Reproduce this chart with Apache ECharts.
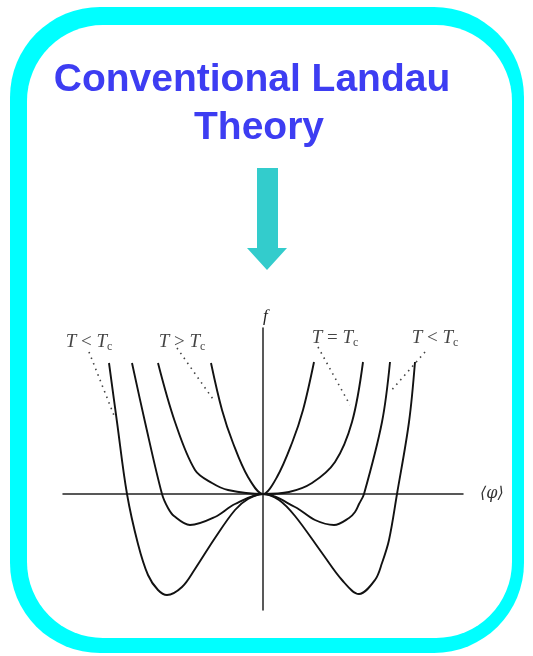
<!DOCTYPE html>
<html>
<head>
<meta charset="utf-8">
<title>Conventional Landau Theory</title>
<script src="https://cdn.jsdelivr.net/npm/echarts@6/dist/echarts.min.js"></script>
<style>
  html, body { margin: 0; padding: 0; background: #ffffff; }
  #chart { width: 533px; height: 656px; }
</style>
</head>
<body>
<div id="chart"></div>
<script>
// Free energy f against order parameter <phi>, one pair of arrays per curve.
// Deep double well, T < Tc
const phiColdDeep = [-3.08, -2.92, -2.72, -2.50, -2.30, -2.10, -1.92, -1.62, -1.36, -0.96, -0.56, -0.30, 0, 0.32, 0.64, 1.18, 1.58, 1.92, 2.24, 2.38, 2.52, 2.68, 2.92, 3.04];
const fColdDeep   = [6.55, 3.6, 0, -2.5, -4.05, -4.8, -5.05, -4.65, -3.75, -2.2, -0.8, -0.25, 0, -0.3, -1.1, -2.95, -4.3, -5.0, -4.3, -3.45, -2.3, 0, 3.6, 6.6];

// Shallow double well, T < Tc
const phiColdShallow = [-2.62, -2.36, -2.02, -1.90, -1.78, -1.46, -0.96, -0.56, 0, 0.64, 1.04, 1.42, 1.72, 1.84, 1.92, 2.02, 2.38, 2.54];
const fColdShallow   = [6.55, 3.6, 0, -0.7, -1.1, -1.55, -1.15, -0.5, 0, -0.65, -1.3, -1.55, -1.2, -0.9, -0.5, 0, 3.6, 6.6];

// Critical curve, T = Tc
const phiCritical = [-2.10, -1.76, -1.36, -1.02, -0.70, 0, 0.52, 0.98, 1.44, 1.78, 2.00];
const fCritical   = [6.55, 3.6, 1.2, 0.55, 0.2, 0, 0.1, 0.55, 1.6, 3.6, 6.6];

// Single well, T > Tc
const phiHot = [-1.04, -0.82, -0.60, -0.30, 0, 0.28, 0.58, 0.80, 1.02];
const fHot   = [6.55, 4.2, 2.55, 0.85, 0, 0.85, 2.55, 4.2, 6.6];

// Curve captions: relation sign, caption anchor, leader line end points
const captionSigns = ['<', '>', '=', '<'];
const captionAnchors = [[-3.48, 7.6], [-1.62, 7.6], [1.44, 7.8], [3.44, 7.8]];
const leaderStarts = [[-3.48, 7.1], [-1.72, 7.3], [1.10, 7.35], [3.24, 7.1]];
const leaderEnds = [[-2.96, 3.8], [-0.96, 4.6], [1.74, 4.45], [2.54, 5.1]];

const zip = (xs, ys) => xs.map((x, i) => [x, ys[i]]);

const curveStyle = { color: '#121212', width: 1.9 };
const curves = [
  [phiColdDeep, fColdDeep],
  [phiColdShallow, fColdShallow],
  [phiCritical, fCritical],
  [phiHot, fHot]
].map(([xs, ys]) => ({
  type: 'line',
  data: zip(xs, ys),
  smooth: 0.35,
  showSymbol: false,
  symbol: 'none',
  silent: true,
  clip: false,
  lineStyle: curveStyle,
  z: 3
}));

const leaders = leaderStarts.map((s, i) => ({
  type: 'line',
  data: [s, leaderEnds[i]],
  showSymbol: false,
  symbol: 'none',
  silent: true,
  lineStyle: { color: '#444', width: 1.6, type: [1.5, 4.5] },
  z: 2
}));

const serif = '"Liberation Serif", "DejaVu Serif", serif';
const captions = {
  type: 'scatter',
  symbolSize: 0,
  silent: true,
  data: captionAnchors.map((p, i) => ({ value: p, sign: captionSigns[i] })),
  label: {
    show: true,
    position: 'inside',
    formatter: (p) => '{it|T}{op| ' + p.data.sign + ' }{it|T}{sub|c}',
    rich: {
      it: { fontFamily: serif, fontStyle: 'italic', fontSize: 19, color: '#151515', lineHeight: 22, verticalAlign: 'middle' },
      op: { fontFamily: serif, fontSize: 19, color: '#151515', lineHeight: 22, verticalAlign: 'middle' },
      sub: { fontFamily: serif, fontSize: 12, color: '#151515', lineHeight: 9, verticalAlign: 'bottom' }
    }
  },
  z: 4
};

const chart = echarts.init(document.getElementById('chart'), null, { renderer: 'canvas' });

chart.setOption({
  backgroundColor: '#ffffff',
  animation: false,
  grid: { left: 63, right: 70, top: 328, bottom: 46, containLabel: false },
  xAxis: {
    type: 'value', min: -4, max: 4,
    axisLine: { show: true, onZero: true, lineStyle: { color: '#222', width: 1.5 } },
    axisTick: { show: false }, axisLabel: { show: false }, splitLine: { show: false },
    name: '⟨φ⟩', nameLocation: 'end', nameGap: 17,
    nameTextStyle: { fontFamily: '"DejaVu Serif", serif', fontStyle: 'italic', fontSize: 16, color: '#333', verticalAlign: 'middle' }
  },
  yAxis: {
    type: 'value', min: -5.8, max: 8.3,
    axisLine: { show: true, onZero: true, lineStyle: { color: '#222', width: 1.5 } },
    axisTick: { show: false }, axisLabel: { show: false }, splitLine: { show: false },
    name: 'f', nameLocation: 'end', nameGap: 3,
    nameTextStyle: { fontFamily: serif, fontStyle: 'italic', fontSize: 17, color: '#222', align: 'left' }
  },
  series: [...curves, ...leaders, captions],
  graphic: [
    // rounded cyan frame
    { type: 'rect', z: -2, silent: true, shape: { x: 10, y: 7, width: 514, height: 646, r: 90 }, style: { fill: '#00ffff' } },
    { type: 'rect', z: -1, silent: true, shape: { x: 27, y: 25, width: 485, height: 613, r: 76 }, style: { fill: '#ffffff' } },
    // heading
    { type: 'text', silent: true, style: { text: 'Conventional Landau', x: 252, y: 80, align: 'center', verticalAlign: 'middle', font: 'bold 39px "Liberation Sans", Arial, sans-serif', fill: '#3d3df2' } },
    { type: 'text', silent: true, style: { text: 'Theory', x: 259, y: 128, align: 'center', verticalAlign: 'middle', font: 'bold 39px "Liberation Sans", Arial, sans-serif', fill: '#3d3df2' } },
    // downward arrow
    { type: 'polygon', silent: true, shape: { points: [[257, 168], [278, 168], [278, 248], [287, 248], [267, 270], [247, 248], [257, 248]] }, style: { fill: '#33cccc' } }
  ]
});
</script>
</body>
</html>
